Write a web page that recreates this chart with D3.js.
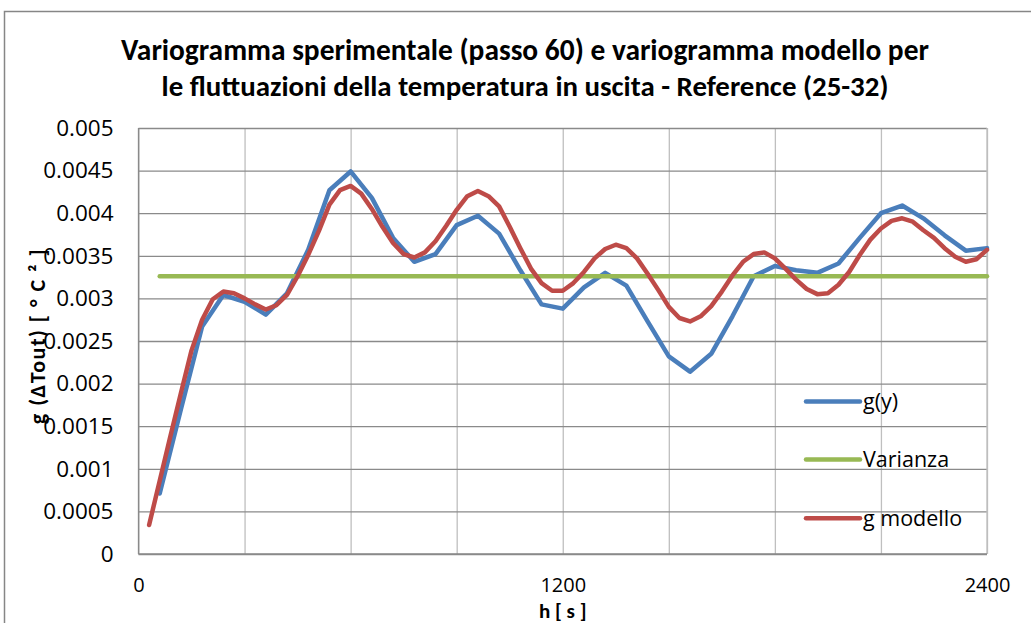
<!DOCTYPE html>
<html>
<head>
<meta charset="utf-8">
<script src="https://cdn.jsdelivr.net/npm/d3@7"></script>
<style>
  html, body { margin: 0; padding: 0; background: #fff; }
  svg { display: block; }
  text { fill: #000; }
</style>
</head>
<body>
<svg id="chart" width="1031" height="623"></svg>
<script>
// Experimental variogram (lag 60 s), sampled every 60 s
const hObs = [60,120,180,240,300,360,420,480,540,600,660,720,780,840,900,960,1020,1080,1140,1200,
              1260,1320,1380,1440,1500,1560,1620,1680,1740,1800,1860,1920,1980,2040,2100,2160,2220,2280,2340,2400];
const gObs = [0.00071,0.00170,0.00267,0.00304,0.00296,0.00281,0.00306,0.00357,0.00427,0.00449,
              0.00418,0.00371,0.00343,0.00352,0.00386,0.00397,0.00376,0.00333,0.00293,0.00288,
              0.00313,0.00330,0.00315,0.00273,0.00232,0.00214,0.00235,0.00279,0.00326,0.00338,
              0.00333,0.00330,0.00341,0.00371,0.00400,0.00409,0.00394,0.00374,0.00356,0.00359];

// Model variogram, evaluated every 30 s
const hModel = d3.range(30, 2401, 30);
const gModel = [0.00034,0.00086,0.00138,0.00189,0.00239,0.00275,0.00299,0.00308,0.00306,0.00300,
                0.00293,0.00287,0.00292,0.00304,0.00326,0.00351,0.00379,0.00410,0.00427,0.00432,
                0.00423,0.00405,0.00384,0.00365,0.00352,0.00348,0.00354,0.00367,0.00385,0.00404,
                0.00420,0.00426,0.00420,0.00408,0.00384,0.00359,0.00335,0.00318,0.00309,0.00309,
                0.00318,0.00331,0.00347,0.00358,0.00363,0.00359,0.00347,0.00329,0.00310,0.00290,
                0.00277,0.00273,0.00279,0.00291,0.00308,0.00327,0.00343,0.00352,0.00354,0.00347,
                0.00335,0.00322,0.00311,0.00305,0.00306,0.00316,0.00331,0.00351,0.00369,0.00382,
                0.00391,0.00394,0.00390,0.00380,0.00371,0.00359,0.00349,0.00343,0.00346,0.00357];

// Sample variance (sill)
const varianza = 0.00326;

const xTickLabels = [0, 1200, 2400];
const xGridValues = d3.range(0, 2401, 300);
const yTickValues = d3.range(0, 0.00501, 0.0005);

const seriesNames = ["g(y)", "Varianza", "g modello"];
const seriesColors = ["#4a7ebb", "#98b954", "#be4b48"];

const titleLines = [
  "Variogramma sperimentale (passo 60) e variogramma modello per",
  "le fluttuazioni della temperatura in uscita - Reference (25-32)"
];

const svg = d3.select("#chart");
const plot = { left: 138.5, right: 987, top: 128, bottom: 554 };

const x = d3.scaleLinear().domain([0, 2400]).range([plot.left, plot.right]);
const y = d3.scaleLinear().domain([0, 0.005]).range([plot.bottom, plot.top]);

const labelFont = "'Open Sans', 'DejaVu Sans', sans-serif";
const titleFont = "Carlito, Calibri, 'Open Sans', sans-serif";

// outer chart frame
svg.append("rect")
  .attr("x", 4.5).attr("y", 11.5).attr("width", 1100).attr("height", 700)
  .attr("fill", "none").attr("stroke", "#868686").attr("stroke-width", 1.5);

// vertical gridlines
svg.append("g").attr("transform", `translate(0,${plot.bottom})`)
  .call(d3.axisBottom(x).tickValues(xGridValues).tickSize(-(plot.bottom - plot.top)).tickFormat(""))
  .call(g => g.select(".domain").remove())
  .call(g => g.selectAll("line").attr("stroke", "#bfbfbf").attr("stroke-width", 1.3));

// horizontal gridlines
svg.append("g").attr("transform", `translate(${plot.left},0)`)
  .call(d3.axisLeft(y).tickValues(yTickValues).tickSize(-(plot.right - plot.left)).tickFormat(""))
  .call(g => g.select(".domain").remove())
  .call(g => g.selectAll("line").attr("stroke", "#8a8a8a").attr("stroke-width", 1.3));

// plot border right side
svg.append("line")
  .attr("x1", plot.right).attr("x2", plot.right).attr("y1", plot.top).attr("y2", plot.bottom)
  .attr("stroke", "#bfbfbf").attr("stroke-width", 1.3);

// axis lines
svg.append("line")
  .attr("x1", plot.left).attr("x2", plot.left).attr("y1", plot.top).attr("y2", plot.bottom)
  .attr("stroke", "#8a8a8a").attr("stroke-width", 1.3);
svg.append("line")
  .attr("x1", plot.left).attr("x2", plot.right).attr("y1", plot.bottom).attr("y2", plot.bottom)
  .attr("stroke", "#8a8a8a").attr("stroke-width", 1.3);

// y tick labels
svg.append("g").attr("transform", `translate(${plot.left},0)`)
  .call(d3.axisLeft(y).tickValues(yTickValues).tickSize(0).tickPadding(25)
        .tickFormat(d => d === 0 ? "0" : String(+d.toFixed(4))))
  .call(g => g.select(".domain").remove())
  .call(g => g.selectAll("text").attr("font-family", labelFont).attr("font-size", 22.5).attr("fill", "#000"));

// x tick labels
svg.append("g").attr("transform", `translate(0,${plot.bottom})`)
  .call(d3.axisBottom(x).tickValues(xTickLabels).tickSize(0).tickPadding(24).tickFormat(d3.format("d")))
  .call(g => g.select(".domain").remove())
  .call(g => g.selectAll("text").attr("font-family", labelFont).attr("font-size", 20).attr("fill", "#000"));

// axis titles
svg.append("text")
  .attr("x", x(1200)).attr("y", 618)
  .attr("text-anchor", "middle")
  .attr("font-family", titleFont).attr("font-weight", "bold").attr("font-size", 21)
  .text("h [ s ]");

svg.append("text")
  .attr("transform", "translate(45,336) rotate(-90)")
  .attr("text-anchor", "middle")
  .attr("font-family", titleFont).attr("font-weight", "bold").attr("font-size", 22)
  .attr("letter-spacing", 1.5)
  .text("g (ΔTout) [ ° C ² ]");

// title, each line fitted to its width
const titleWidths = [808, 727];
titleLines.forEach((t, i) => {
  const el = svg.append("text")
    .attr("x", 525).attr("y", 60 + i * 36)
    .attr("text-anchor", "middle")
    .attr("font-family", titleFont).attr("font-weight", "bold").attr("font-size", 24)
    .text(t);
  const w = el.node().getComputedTextLength();
  el.attr("font-size", 24 * titleWidths[i] / w);
});

// series
const line = d3.line().x(d => x(d[0])).y(d => y(d[1]));
const seriesData = [
  hObs.map((h, i) => [h, gObs[i]]),
  hObs.map(h => [h, varianza]),
  hModel.map((h, i) => [h, gModel[i]])
];
seriesData.forEach((data, i) => {
  svg.append("path")
    .datum(data)
    .attr("d", line)
    .attr("fill", "none")
    .attr("stroke", seriesColors[i])
    .attr("stroke-width", 4.5)
    .attr("stroke-linejoin", "round")
    .attr("stroke-linecap", "round");
});

// legend
const legendY = [y(0.00179), y(0.00111), y(0.00042)];
seriesNames.forEach((name, i) => {
  svg.append("line")
    .attr("x1", 806).attr("x2", 860).attr("y1", legendY[i]).attr("y2", legendY[i])
    .attr("stroke", seriesColors[i]).attr("stroke-width", 4.5).attr("stroke-linecap", "round");
  svg.append("text")
    .attr("x", 863).attr("y", legendY[i]).attr("dy", "0.35em")
    .attr("font-family", labelFont).attr("font-size", 21.5)
    .text(name);
});
</script>
</body>
</html>
